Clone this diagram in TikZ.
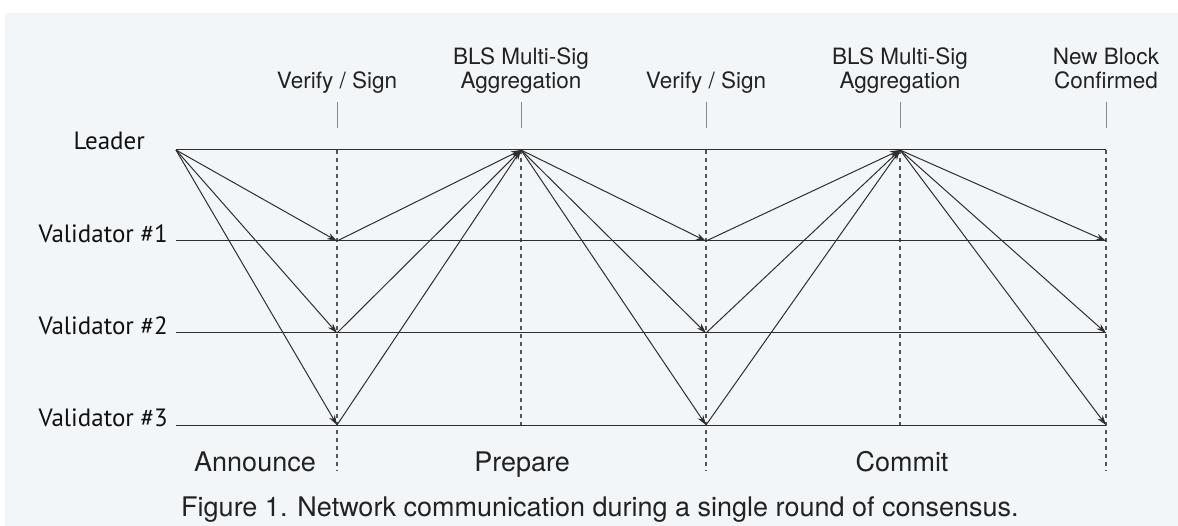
\documentclass[tikz,border=0pt]{standalone}
\usepackage{fontspec}
\setmainfont{TeX Gyre Heros}
\newfontfamily\rolefont{PT Sans}
\usetikzlibrary{arrows.meta}
\definecolor{panel}{HTML}{F3F6F9}
\definecolor{ink}{HTML}{222222}
\definecolor{roleink}{HTML}{111111}
\definecolor{wire}{HTML}{2E2E2E}
\definecolor{tick}{HTML}{8A8A8A}
\definecolor{guide}{HTML}{555555}
\tikzset{
  lane/.style={draw=wire, line width=1pt},
  msg/.style={draw=wire, line width=1pt, -{Stealth[length=10pt,width=6.5pt]}},
  guideline/.style={draw=guide, line width=1.1pt, dash pattern=on 4pt off 4pt},
  tickmark/.style={draw=tick, line width=1pt},
  role/.style={font=\rolefont\fontsize{25}{28}\selectfont, text=roleink, anchor=base east, inner sep=0pt},
  event/.style={font=\fontsize{22.5}{24.5}\selectfont, text=ink, align=center, anchor=base, inner sep=0pt},
  phase/.style={font=\fontsize{27}{30}\selectfont, text=ink, anchor=base, inner sep=0pt},
  caption/.style={font=\fontsize{27}{30}\selectfont, text=ink, anchor=base, inner sep=0pt}
}
\begin{document}
\begin{tikzpicture}[x=1pt, y=-1pt]
  \useasboundingbox (0,0) rectangle (1178,526);
  \fill[white] (0,0) rectangle (1178,526);
  \fill[panel] (5,13) rectangle (1178,526);

  % grid of message points: columns s,a,b,c,d,e and rows L,V1,V2,V3
  \foreach \col/\x in {s/176, a/337, b/521, c/706, d/900, e/1106} {
    \foreach \row/\y in {L/150, V1/241, V2/333, V3/425} {
      \coordinate (\row-\col) at (\x,\y);
    }
  }

  % phase boundaries (dashed) and event markers
  \coordinate (low-a) at (337,471);
  \coordinate (low-c) at (706,471);
  \coordinate (low-e) at (1106,471);
  \draw[guideline] (L-a) -- (low-a);
  \draw[guideline] (L-b) -- (V3-b);
  \draw[guideline] (L-c) -- (low-c);
  \draw[guideline] (L-d) -- (V3-d);
  \draw[guideline] (L-e) -- (low-e);

  \foreach \col/\x in {a/337, b/521, c/706, d/900, e/1106} {
    \coordinate (tt-\col) at (\x,102);
    \coordinate (tb-\col) at (\x,128);
    \draw[tickmark] (tt-\col) -- (tb-\col);
  }

  % lanes
  \draw[lane] (L-s) -- (L-e);
  \draw[lane] (V1-s) -- (V1-e);
  \draw[lane] (V2-s) -- (V2-e);
  \draw[lane] (V3-s) -- (V3-e);

  % lane labels
  \node[role] (leader) at (145,150) {Leader};
  \node[role] (val1) at (168,243) {Validator \#1};
  \node[role] (val2) at (168,335) {Validator \#2};
  \node[role] (val3) at (168,427) {Validator \#3};

  % announce
  \foreach \row in {V1, V2, V3} \draw[msg] (L-s) -- (\row-a);
  % prepare
  \foreach \row in {V1, V2, V3} \draw[msg] (\row-a) -- (L-b);
  \foreach \row in {V1, V2, V3} \draw[msg] (L-b) -- (\row-c);
  % commit
  \foreach \row in {V1, V2, V3} \draw[msg] (\row-c) -- (L-d);
  \foreach \row in {V1, V2, V3} \draw[msg] (L-d) -- (\row-e);

  % event labels
  \node[event] (ev1) at (337,89) {Verify / Sign};
  \node[event] (ev2) at (521,89) {BLS Multi-Sig\\Aggregation};
  \node[event] (ev3) at (706,89) {Verify / Sign};
  \node[event] (ev4) at (900,89) {BLS Multi-Sig\\Aggregation};
  \node[event] (ev5) at (1106,89) {New Block\\Confirmed};

  % phase labels
  \node[phase] (ph1) at (255,471) {Announce};
  \node[phase] (ph2) at (522,471) {Prepare};
  \node[phase] (ph3) at (902,471) {Commit};

  \node[caption] (cap) at (600,516) {Figure 1. Network communication during a single round of consensus.};
\end{tikzpicture}
\end{document}
